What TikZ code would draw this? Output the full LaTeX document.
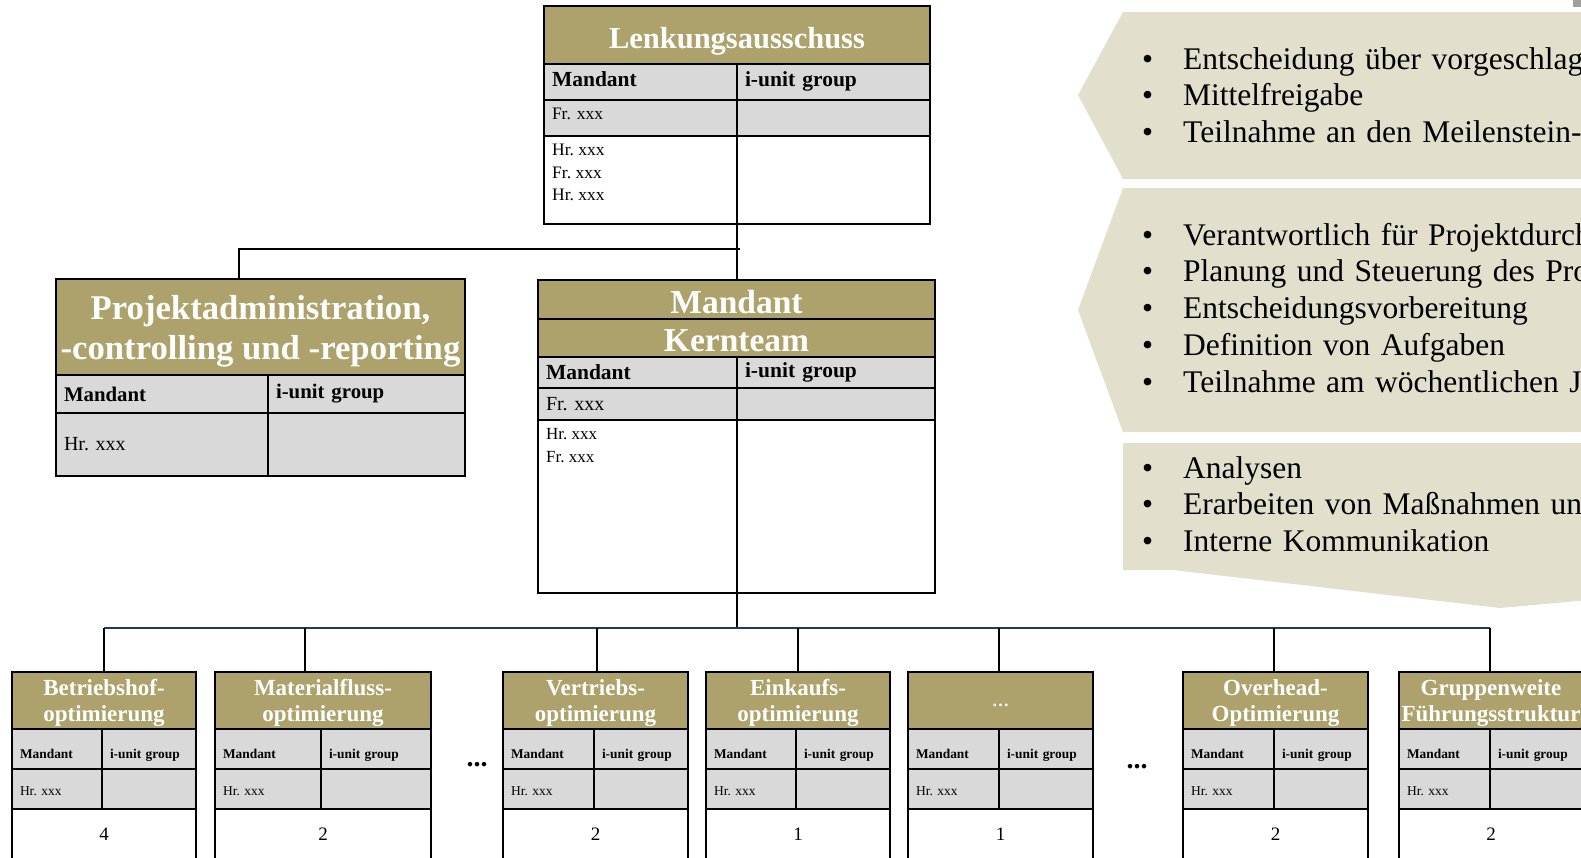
\documentclass[tikz,border=0pt]{standalone}
\usepackage{fontspec}
\setmainfont{Liberation Serif}
\newfontfamily\panelfont[WordSpace=0.75]{Liberation Serif}
\usetikzlibrary{positioning}
\definecolor{hdrgold}{HTML}{ADA26B}
\definecolor{cellgray}{HTML}{D9D9D9}
\definecolor{panelbeige}{HTML}{E2DFCD}
\definecolor{busblue}{HTML}{1F3864}
\newcommand\fs[2]{\fontsize{#1}{#2}\selectfont}
\newcommand\bul{\makebox[41pt][l]{\textbullet}}
\begin{document}
\begin{tikzpicture}[x=1pt,y=-1pt,
  box/.style={draw,line width=2pt,anchor=north west,inner sep=0pt,outer sep=0pt},
  hdr/.style 2 args={box,fill=hdrgold,text=white,align=center,minimum width=#1,minimum height=#2},
  cell/.style 2 args={box,fill=cellgray,minimum width=#1,minimum height=#2,text width=#1-16,inner xsep=8pt,align=left},
  wcell/.style 2 args={box,fill=white,minimum width=#1,minimum height=#2},
  conn/.style={line width=2pt},
  bus/.style={busblue,line width=1.6pt},
  bullets/.style={anchor=base west,inner sep=0pt,text width=560,align=left,font=\panelfont\fs{31.5}{36.75}},
  gapdots/.style={anchor=base,inner sep=0pt,font=\fs{28}{28}\bfseries}]
  \useasboundingbox (0,0) rectangle (1581,857);
  \clip (0,0) rectangle (1581,857);

  % task panels on the right
  \fill[panelbeige] (1123,12) -- (1600,12) -- (1600,179) -- (1123,179) -- (1078,95) -- cycle;
  \fill[panelbeige] (1123,188) -- (1600,188) -- (1600,432) -- (1123,432) -- (1078,310) -- cycle;
  \fill[panelbeige] (1123,443) -- (1600,443) -- (1600,599) -- (1500,608) -- (1173,570) -- (1123,570) -- cycle;
  \fill[gray!75] (1573,0) rectangle (1581,7);
  \node[bullets] (tasks1) at (1142,69) {\bul Entscheidung über vorgeschlage\\\bul Mittelfreigabe\\\bul Teilnahme an den Meilenstein- M};
  \node[bullets] (tasks2) at (1142,245) {\bul Verantwortlich für Projektdurch\\\bul Planung und Steuerung des Proj\\\bul Entscheidungsvorbereitung\\\bul Definition von Aufgaben\\\bul Teilnahme am wöchentlichen Jo};
  \node[bullets] (tasks3) at (1142,478) {\bul Analysen\\\bul Erarbeiten von Maßnahmen und\\\bul Interne Kommunikation};

  % Lenkungsausschuss
  \node[hdr={386}{58},font=\fs{30.5}{34}\bfseries,text height=26pt,text depth=0pt] (lenk) at (544,6) {Lenkungsausschuss};
  \node[cell={193}{36},font=\fs{21.5}{25}\bfseries,text depth=6.5pt] (lenkM) at (lenk.south west) {Mandant};
  \node[cell={193}{36},font=\fs{21.5}{25}\bfseries,text depth=6.5pt] (lenkG) at (lenkM.north east) {i-unit group};
  \node[cell={193}{36},font=\fs{17.5}{22.5},text depth=8pt] (lenkF) at (lenkM.south west) {Fr.\ xxx};
  \node[cell={193}{36}] (lenkE) at (lenkF.north east) {};
  \node[wcell={193}{88}] (lenkW) at (lenkF.south west) {};
  \node[wcell={193}{88}] (lenkV) at (lenkW.north east) {};
  \node[anchor=north west,inner sep=0pt,align=left,font=\fs{17.5}{22.5}] (lenkT) at ([shift={(8,8)}]lenkW.north west) {Hr.\ xxx\\Fr.\ xxx\\Hr.\ xxx};

  % Projektadministration
  \node[hdr={409}{96},font=\fs{34.7}{40}\bfseries,text depth=0pt] (proj) at (56,279) {Projektadministration,\\-controlling und -reporting};
  \node[cell={212}{38},font=\fs{20.8}{24}\bfseries] (projM) at (proj.south west) {Mandant};
  \node[cell={197}{38},font=\fs{20.8}{24}\bfseries] (projG) at (projM.north east) {i-unit group};
  \node[cell={212}{63},font=\fs{20}{24}] (projH) at (projM.south west) {Hr.\ xxx};
  \node[cell={197}{63}] (projE) at (projH.north east) {};

  % Kernteam
  \node[hdr={397}{39},font=\fs{33.5}{38}\bfseries,text height=27pt,text depth=0pt] (kern) at (538,280) {Mandant};
  \node[hdr={397}{38},font=\fs{33.5}{38}\bfseries,text height=27pt,text depth=0pt] (kernK) at (kern.south west) {Kernteam};
  \node[cell={199}{31},font=\fs{21.5}{25}\bfseries] (kernM) at (kernK.south west) {Mandant};
  \node[cell={198}{31},font=\fs{21.5}{25}\bfseries] (kernG) at (kernM.north east) {i-unit group};
  \node[cell={199}{32},font=\fs{20}{24}] (kernF) at (kernM.south west) {Fr.\ xxx};
  \node[cell={198}{32}] (kernE) at (kernF.north east) {};
  \node[wcell={199}{173}] (kernW) at (kernF.south west) {};
  \node[wcell={198}{173}] (kernV) at (kernW.north east) {};
  \node[anchor=north west,inner sep=0pt,align=left,font=\fs{17}{23.5}] (kernT) at ([shift={(8,8)}]kernW.north west) {Hr.\ xxx\\Fr.\ xxx};

  % upper connectors
  \coordinate (split) at (740,249);
  \coordinate (projTop) at ([xshift=183pt]proj.north west);
  \draw[conn] (lenkW.south east) -- (lenkW.south east |- kern.north);
  \draw[conn] (split) -| (projTop);
  \coordinate (bus) at (737,628);
  \draw[conn] (kernW.south east) -- (bus);

  % teams
  \foreach \i/\bx/\bw/\bl/\dx/\ttl/\num in {
    1/12/184/90/104/{Betriebshof-\\optimierung}/4,
    2/215/216/106/305/{Materialfluss-\\optimierung}/2,
    3/503/185/91/597/{Vertriebs-\\optimierung}/2,
    4/706/184/90/798/{Einkaufs-\\optimierung}/1,
    5/908/185/91/999/{\fs{17}{17}\raisebox{-6pt}{\ldots}}/1,
    6/1183/185/91/1274/{Overhead-\\Optimierung}/2,
    7/1399/184/91/1490/{Gruppenweite\\Führungsstruktur}/2} {
    \node[hdr={\bw}{57},font=\fs{23}{26}\bfseries,text depth=-5pt] (b\i) at (\bx,672) {\ttl};
    \node[cell={\bl}{40},font=\fs{13.4}{16}\bfseries,text height=19pt,text depth=0pt] (m\i) at (b\i.south west) {Mandant};
    \node[cell={\bw-\bl}{40},font=\fs{13.4}{16}\bfseries,text height=19pt,text depth=0pt] (g\i) at (m\i.north east) {i-unit group};
    \node[cell={\bl}{40},font=\fs{13.5}{16},text height=13pt,text depth=0pt] (h\i) at (m\i.south west) {Hr.\ xxx};
    \node[cell={\bw-\bl}{40}] (e\i) at (h\i.north east) {};
    \node[wcell={\bw}{51},font=\fs{19}{22}] (n\i) at (h\i.south west) {\num};
    \coordinate (d\i) at (\dx,628);
  }
  \draw[bus] (d1) -- (d7);
  \foreach \i in {1,...,7}
    \draw[conn] (d\i) -- (d\i |- b\i.north);
  \node[gapdots] (gap1) at (477,766) {...};
  \node[gapdots] (gap2) at (1137,768) {...};
\end{tikzpicture}
\end{document}
